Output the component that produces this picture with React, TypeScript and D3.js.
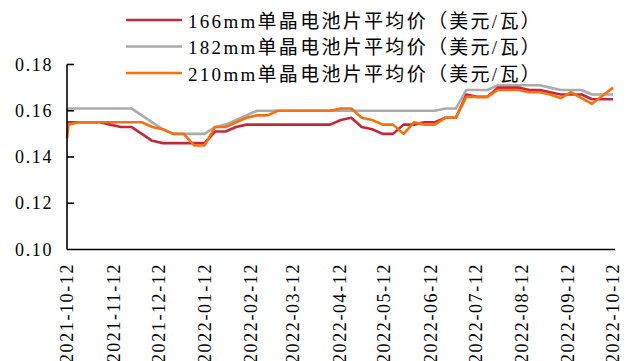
import React from "react";
import * as d3 from "d3";

const W = 634;
const H = 361;

const seriesNames = [
  "166mm单晶电池片平均价（美元/瓦）",
  "182mm单晶电池片平均价（美元/瓦）",
  "210mm单晶电池片平均价（美元/瓦）",
];
const seriesColors = ["#C3283A", "#ABABAB", "#F5700F"];

const xTickLabels = [
  "2021-10-12", "2021-11-12", "2021-12-12", "2022-01-12", "2022-02-12",
  "2022-03-12", "2022-04-12", "2022-05-12", "2022-06-12", "2022-07-12",
  "2022-08-12", "2022-09-12", "2022-10-12",
];
const yTicks = [0.10, 0.12, 0.14, 0.16, 0.18];

// first observation date, then weekly observations
const firstDate = "2021-10-12";
const weeklyStart = "2021-10-13";

const firstValues = [0.155, 0.160, 0.148];

const red166 = [
  0.155, 0.155, 0.155, 0.155, 0.154, 0.153, 0.153, 0.150, 0.147, 0.146,
  0.146, 0.146, 0.146, 0.146, 0.151, 0.151, 0.153, 0.154, 0.154, 0.154,
  0.154, 0.154, 0.154, 0.154, 0.154, 0.154, 0.156, 0.157, 0.153, 0.152,
  0.150, 0.150, 0.154, 0.154, 0.155, 0.155, 0.157, 0.157, 0.167, 0.166,
  0.166, 0.170, 0.170, 0.170, 0.169, 0.169, 0.168, 0.167, 0.167, 0.167,
  0.165, 0.165, 0.165,
];
const gray182 = [
  0.161, 0.161, 0.161, 0.161, 0.161, 0.161, 0.161, 0.158, 0.155, 0.152,
  0.150, 0.150, 0.150, 0.150, 0.153, 0.154, 0.156, 0.158, 0.160, 0.160,
  0.160, 0.160, 0.160, 0.160, 0.160, 0.160, 0.160, 0.160, 0.160, 0.160,
  0.160, 0.160, 0.160, 0.160, 0.160, 0.160, 0.161, 0.161, 0.169, 0.169,
  0.169, 0.171, 0.171, 0.171, 0.171, 0.171, 0.170, 0.169, 0.169, 0.169,
  0.167, 0.167, 0.167,
];
const orange210 = [
  0.154, 0.155, 0.155, 0.155, 0.155, 0.155, 0.155, 0.155, 0.153, 0.152,
  0.150, 0.150, 0.145, 0.145, 0.153, 0.153, 0.155, 0.157, 0.158, 0.158,
  0.160, 0.160, 0.160, 0.160, 0.160, 0.160, 0.161, 0.161, 0.157, 0.156,
  0.154, 0.154, 0.150, 0.155, 0.154, 0.154, 0.157, 0.157, 0.166, 0.166,
  0.166, 0.169, 0.169, 0.169, 0.168, 0.168, 0.167, 0.1655, 0.168, 0.1655,
  0.163, 0.1665, 0.170,
];

const parse = d3.timeParse("%Y-%m-%d");

export default function App() {
  const x = d3
    .scaleTime()
    .domain([parse(xTickLabels[0])!, parse(xTickLabels[xTickLabels.length - 1])!])
    .range([67, 613]);
  const y = d3.scaleLinear().domain([0.1, 0.18]).range([249.5, 64.5]);

  const start = parse(weeklyStart)!;
  const dates = red166.map((_, i) => d3.timeDay.offset(start, 7 * i));
  const allSeries = [red166, gray182, orange210].map((vals, si) => [
    { d: parse(firstDate)!, v: firstValues[si] },
    ...vals.map((v, i) => ({ d: dates[i], v })),
  ]);

  const line = d3
    .line<{ d: Date; v: number }>()
    .x((p) => x(p.d))
    .y((p) => y(p.v))
    .curve(d3.curveLinear);

  const latin = "'Liberation Serif', serif";
  const mixed = "'Liberation Serif', 'Noto Sans CJK SC', serif";
  const drawOrder = [1, 0, 2];

  return (
    <svg
      width={W}
      height={H}
      style={{ position: "absolute", left: 0, top: 0, background: "#fff" }}
    >
      {/* series */}
      {drawOrder.map((si) => (
        <path
          key={si}
          d={line(allSeries[si]) || ""}
          fill="none"
          stroke={seriesColors[si]}
          strokeWidth={2.6}
          strokeLinejoin="round"
        />
      ))}

      {/* y axis */}
      <line x1={67} x2={67} y1={y(0.18)} y2={y(0.1)} stroke="#000" strokeWidth={1.6} />
      {yTicks.map((t) => (
        <g key={t}>
          {t > 0.1 && (
            <line x1={67} x2={74} y1={y(t)} y2={y(t)} stroke="#000" strokeWidth={1.6} />
          )}
          <text
            x={53}
            y={y(t) + 6}
            textAnchor="end"
            style={{ fontFamily: latin, fontSize: "18px", letterSpacing: "1.6px" }}
            fill="#000"
          >
            {t.toFixed(2)}
          </text>
        </g>
      ))}

      {/* x axis */}
      <line x1={67} x2={615} y1={y(0.1)} y2={y(0.1)} stroke="#000" strokeWidth={1.6} />
      {xTickLabels.map((lab) => {
        const px = x(parse(lab)!);
        return (
          <text
            key={lab}
            transform={`translate(${px},263) rotate(-90)`}
            textAnchor="end"
            dy="0.35em"
            style={{ fontFamily: latin, fontSize: "18px", letterSpacing: "1.6px" }}
            fill="#000"
          >
            {lab}
          </text>
        );
      })}

      {/* legend */}
      {seriesNames.map((name, i) => {
        const ly = 20 + i * 26.5;
        return (
          <g key={name}>
            <line x1={126} x2={182} y1={ly} y2={ly} stroke={seriesColors[i]} strokeWidth={2.6} />
            <text
              x={188}
              y={ly + 7.5}
              style={{ fontFamily: mixed, fontSize: "19px", letterSpacing: "2.3px" }}
              fill="#000"
            >
              {name}
            </text>
          </g>
        );
      })}
    </svg>
  );
}
